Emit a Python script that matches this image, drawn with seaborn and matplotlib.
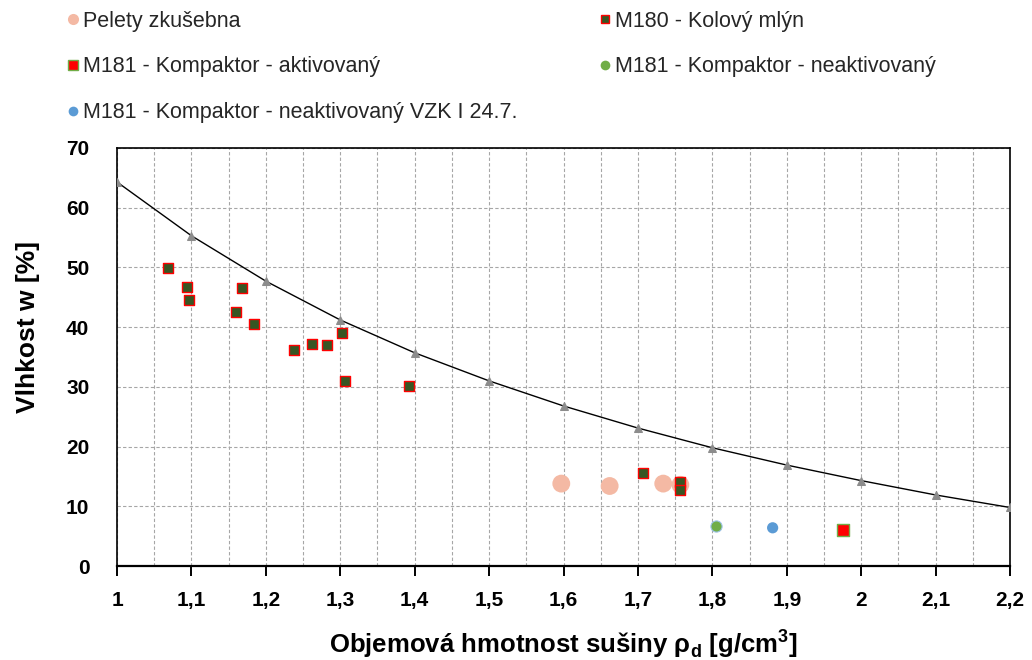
import matplotlib
matplotlib.use("Agg")
import matplotlib.pyplot as plt
from matplotlib.lines import Line2D
from matplotlib.ticker import MultipleLocator, FuncFormatter
import seaborn as sns
import pandas as pd

sns.set_theme(style="white")
plt.rcParams['font.family'] = ['Liberation Sans', 'DejaVu Sans']

# Saturation curve
curve_x = [1.0, 1.1, 1.2, 1.3, 1.4, 1.5, 1.6, 1.7, 1.8, 1.9, 2.0, 2.1, 2.2]
curve_y = [64.3, 55.3, 47.7, 41.2, 35.7, 31.0, 26.8, 23.1, 19.8, 16.9, 14.3, 11.9, 9.8]

# Series
pel_x = [1.597, 1.662, 1.734, 1.757]
pel_y = [13.8, 13.4, 13.8, 13.6]

m180_x = [1.068, 1.094, 1.097, 1.168, 1.160, 1.184, 1.238, 1.262, 1.282, 1.302, 1.306, 1.393,
          1.707, 1.757, 1.756]
m180_y = [49.9, 46.8, 44.5, 46.6, 42.5, 40.6, 36.2, 37.1, 37.0, 39.1, 30.9, 30.2,
          15.5, 14.1, 12.8]

akt_x = [1.976]
akt_y = [6.0]

neakt_x = [1.805]
neakt_y = [6.7]

vzk_x = [1.881]
vzk_y = [6.4]

labels = ["Pelety zkušebna", "M180 - Kolový mlýn", "M181 - Kompaktor - aktivovaný",
          "M181 - Kompaktor - neaktivovaný", "M181 - Kompaktor - neaktivovaný VZK I 24.7."]

fig = plt.figure(figsize=(10.32, 6.6), dpi=100)
ax = fig.add_axes([0.1134, 0.1424, 0.8653, 0.6334])

sns.lineplot(x=curve_x, y=curve_y, ax=ax, color="black", linewidth=1.0, marker="^",
             markersize=6, markerfacecolor="#8c8c8c", markeredgecolor="#8c8c8c", zorder=3)

sns.scatterplot(x=pel_x, y=pel_y, ax=ax, color="#F4B9A4", s=165, marker="o", edgecolor="none", zorder=4)
sns.scatterplot(x=m180_x, y=m180_y, ax=ax, color="#375623", s=58, marker="s", edgecolor="#FF0000",
                linewidth=1.0, zorder=5)
sns.scatterplot(x=akt_x, y=akt_y, ax=ax, color="#FF0000", s=80, marker="s", edgecolor="#70AD47",
                linewidth=1.0, zorder=5)
sns.scatterplot(x=neakt_x, y=neakt_y, ax=ax, color="#70AD47", s=65, marker="o", edgecolor="#9DC3E6",
                linewidth=0.8, zorder=5)
sns.scatterplot(x=vzk_x, y=vzk_y, ax=ax, color="#5B9BD5", s=65, marker="o", edgecolor="none", zorder=5)

ax.set_xlim(1.0, 2.2)
ax.set_ylim(0, 70)
ax.xaxis.set_major_locator(MultipleLocator(0.1))
ax.xaxis.set_minor_locator(MultipleLocator(0.05))
ax.yaxis.set_major_locator(MultipleLocator(10))

def fmt(v, pos):
    s = f"{v:.1f}".rstrip("0").rstrip(".")
    return s.replace(".", ",")
ax.xaxis.set_major_formatter(FuncFormatter(fmt))

ax.grid(which="both", axis="x", color="#a6a6a6", linestyle=(0, (3, 2)), linewidth=0.8)
ax.grid(which="major", axis="y", color="#a6a6a6", linestyle=(0, (3, 2)), linewidth=0.8)
ax.set_axisbelow(True)

for sp in ax.spines.values():
    sp.set_color("black")
    sp.set_linewidth(1.2)
ax.spines["bottom"].set_linewidth(1.6)

ax.tick_params(axis="x", which="major", direction="out", length=7, width=1.4, color="black",
               labelsize=15, pad=11, bottom=True)
ax.tick_params(axis="x", which="minor", length=0)
ax.tick_params(axis="y", which="major", length=0, labelsize=15, pad=20, left=False)
for lab in ax.get_xticklabels() + ax.get_yticklabels():
    lab.set_fontweight("bold")
    lab.set_color("black")

ax.set_xlabel("Objemová hmotnost sušiny ρ$_\\mathregular{d}$ [g/cm$^\\mathregular{3}$]", fontsize=18.5,
              fontweight="bold", labelpad=12, color="black")
ax.set_ylabel("Vlhkost w [%]", fontsize=19, fontweight="bold", color="black")
ax.yaxis.set_label_coords(-0.086, 0.572)

handles = [
    Line2D([], [], linestyle="none", marker="o", markersize=8, markerfacecolor="#F4B9A4", markeredgecolor="none"),
    Line2D([], [], linestyle="none", marker="s", markersize=7, markerfacecolor="#FF0000", markeredgecolor="#70AD47"),
    Line2D([], [], linestyle="none", marker="o", markersize=7, markerfacecolor="#5B9BD5", markeredgecolor="none"),
    Line2D([], [], linestyle="none", marker="s", markersize=6, markerfacecolor="#375623", markeredgecolor="#FF0000"),
    Line2D([], [], linestyle="none", marker="o", markersize=7, markerfacecolor="#70AD47", markeredgecolor="none"),
]
hl = [labels[0], labels[2], labels[4], labels[1], labels[3]]
leg = fig.legend(handles, hl, ncol=2, loc="upper left", bbox_to_anchor=(0.056, 0.997),
                 frameon=False, fontsize=15.5, handlelength=0.6, handletextpad=0.15,
                 labelspacing=1.15, columnspacing=3.8, borderaxespad=0)

fig.savefig("out.png", dpi=100)
